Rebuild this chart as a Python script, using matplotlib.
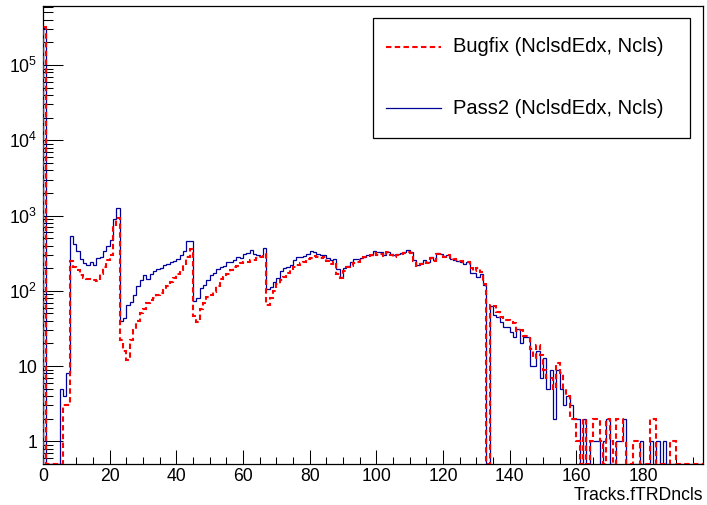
import numpy as np
import matplotlib
matplotlib.use('Agg')
import matplotlib.pyplot as plt
from matplotlib.ticker import MultipleLocator, LogLocator, FixedLocator, NullFormatter, FixedFormatter
from matplotlib.lines import Line2D
from matplotlib.patches import Rectangle

plt.rcParams['font.family'] = ['Liberation Sans', 'DejaVu Sans']
plt.rcParams['mathtext.fontset'] = 'custom'
plt.rcParams['mathtext.rm'] = 'Liberation Sans'
plt.rcParams['mathtext.it'] = 'Liberation Sans:italic'

# ---------------- data (counts per unit-width bin, 0..198) ----------------
x_min, x_max = 0, 198
pass2 = [
    310000, 0, 0, 0, 0, 5, 4, 8, 540, 425,
    340, 265, 238, 222, 245, 222, 270, 283, 334, 395,
    470, 890, 1270, 40, 44, 65, 72, 88, 115, 138,
    160, 145, 166, 181, 195, 200, 218, 230, 245, 252,
    265, 300, 340, 458, 465, 74, 80, 110, 120, 140,
    160, 175, 195, 205, 215, 245, 245, 255, 280, 275,
    310, 320, 345, 310, 300, 290, 369, 105, 112, 133,
    148, 181, 200, 205, 222, 258, 281, 281, 290, 310,
    334, 325, 305, 300, 300, 275, 258, 262, 195, 155,
    200, 215, 245, 262, 268, 272, 285, 301, 301, 340,
    325, 330, 301, 330, 310, 295, 310, 320, 330, 350,
    330, 258, 222, 233, 255, 245, 285, 258, 323, 310,
    290, 301, 265, 258, 250, 245, 230, 240, 172, 175,
    152, 165, 120, 0, 62, 48, 45, 39, 33, 33,
    28, 24, 31, 20, 24, 24, 10, 10, 16, 7,
    13, 5, 9, 2, 9, 5, 3, 4, 3, 2,
    2, 0, 2, 0, 1, 1, 1, 0, 1, 2,
    0, 0, 1, 1, 2, 0, 0, 0, 0, 1,
    0, 0, 1, 0, 1, 0, 1, 0, 0, 0,
    0, 0, 0, 0, 0, 0, 0, 0,
]
bugfix = [
    320000, 0, 0, 0, 0, 0, 3, 3, 250, 210,
    190, 160, 146, 142, 140, 140, 135, 170, 205, 258,
    300, 720, 920, 22, 16, 12, 22, 30, 40, 50,
    58, 68, 75, 80, 88, 93, 103, 117, 133, 150,
    170, 190, 222, 280, 355, 46, 39, 58, 69, 82,
    89, 98, 117, 145, 155, 168, 190, 205, 215, 233,
    245, 245, 258, 255, 272, 285, 310, 65, 80, 100,
    125, 140, 155, 172, 190, 205, 222, 233, 245, 265,
    272, 292, 285, 272, 285, 250, 230, 240, 168, 148,
    181, 205, 215, 233, 245, 265, 280, 285, 301, 315,
    300, 310, 290, 325, 300, 280, 295, 305, 320, 330,
    315, 250, 215, 228, 240, 238, 270, 250, 310, 300,
    285, 295, 270, 262, 255, 250, 240, 245, 200, 185,
    200, 180, 125, 0, 65, 62, 53, 45, 41, 41,
    38, 37, 29, 30, 25, 25, 17, 13, 19, 14,
    9, 7, 7, 5, 11, 8, 5, 4, 2, 2,
    1, 0, 2, 0, 1, 2, 2, 1, 0, 2,
    1, 0, 2, 2, 1, 0, 0, 1, 1, 0,
    0, 0, 2, 2, 0, 0, 0, 0, 1, 1,
    0, 0, 0, 0, 0, 0, 0, 0,
]
labels = ['Bugfix (NclsdEdx, Ncls)', 'Pass2 (NclsdEdx, Ncls)']
x_title = 'Tracks.fTRDncls'
x_ticks = [0, 20, 40, 60, 80, 100, 120, 140, 160, 180]
y_ticks = [1, 10, 100, 1000, 10000, 100000]
y_ticklabels = ['1', '10', r'$10^{2}$', r'$10^{3}$', r'$10^{4}$', r'$10^{5}$']
y_min, y_max = 0.5, 6.1e5

# ---------------- figure ----------------
W, H = 707, 505
fig = plt.figure(figsize=(W / 100, H / 100), dpi=100)
L, R, T, B = 43, 703, 6, 464
ax = fig.add_axes([L / W, 1 - B / H, (R - L) / W, (B - T) / H])

edges = np.linspace(x_min, x_max, len(pass2) + 1)
p2 = np.asarray(pass2, float)
bf = np.asarray(bugfix, float)

blue = '#000099'
red = '#ff0000'
ax.stairs(np.where(p2 > 0, p2, y_min), edges, baseline=y_min,
          color=blue, lw=0.9, zorder=3)
ax.stairs(np.where(bf > 0, bf, y_min), edges, baseline=y_min,
          color=red, lw=1.5, linestyle=(0, (2.6, 1.6)), zorder=4)

ax.set_yscale('log')
ax.set_xlim(x_min, x_max)
ax.set_ylim(y_min, y_max)

ax.xaxis.set_major_locator(FixedLocator(x_ticks))
ax.xaxis.set_minor_locator(MultipleLocator(5))
ax.yaxis.set_major_locator(FixedLocator(y_ticks))
ax.yaxis.set_major_formatter(FixedFormatter(y_ticklabels))
ax.yaxis.set_minor_locator(LogLocator(base=10, subs=np.arange(2, 10), numticks=20))
ax.yaxis.set_minor_formatter(NullFormatter())

ax.tick_params(axis='both', which='both', direction='in', top=False, right=False,
               width=0.75, labelsize=12.7, colors='black')
ax.tick_params(axis='y', which='major', length=14.3, pad=4)
ax.tick_params(axis='y', which='minor', length=7.1)
ax.tick_params(axis='x', which='major', length=9.9, pad=3)
ax.tick_params(axis='x', which='minor', length=4.9)
for s in ax.spines.values():
    s.set_linewidth(0.9)

# x-axis title, right-aligned under the frame (ROOT style)
fig.text(R / W, 1 - 495.5 / H, x_title, fontsize=12.7, ha='right', va='center')

# ---------------- legend box ----------------
lx0, ly0, lx1, ly1 = 373, 18, 690, 138
fig.add_artist(Rectangle((lx0 / W, 1 - ly1 / H), (lx1 - lx0) / W, (ly1 - ly0) / H,
                         transform=fig.transFigure, facecolor='white',
                         edgecolor='black', lw=0.9, zorder=10))
entries = [(labels[0], red, 1.5, (0, (2.6, 1.6)), 47),
           (labels[1], blue, 0.9, '-', 108)]
for txt, col, lw, ls, yy in entries:
    fig.add_artist(Line2D([386 / W, 441 / W], [1 - yy / H, 1 - yy / H],
                          transform=fig.transFigure, color=col, lw=lw,
                          linestyle=ls, zorder=11))
    fig.text(453 / W, 1 - yy / H, txt, fontsize=14.5, va='center', ha='left',
             zorder=12)

fig.savefig('out.png', dpi=100)
